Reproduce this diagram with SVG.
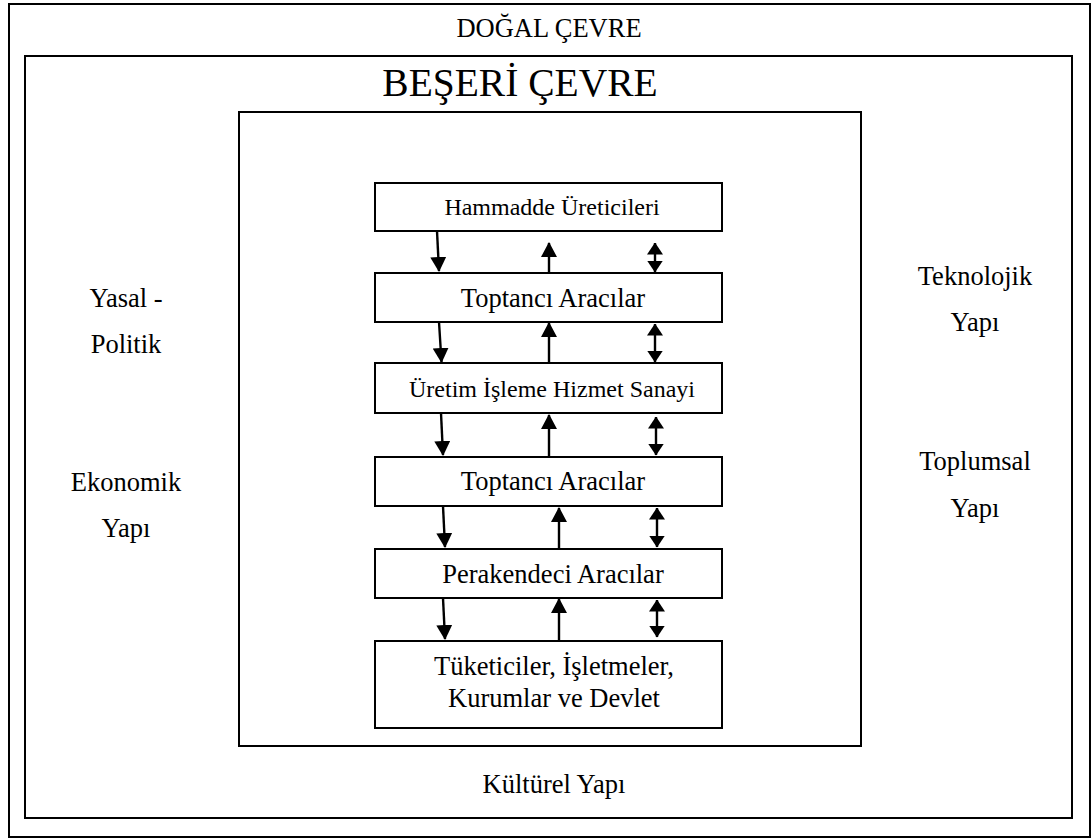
<svg xmlns="http://www.w3.org/2000/svg" width="1092" height="840" viewBox="0 0 1092 840">
<style>
  .frame { fill: none; stroke: #000; stroke-width: 2; }
  .box { fill: #fff; stroke: #000; stroke-width: 2; }
  text { font-family: "Liberation Serif", "Times New Roman", serif; fill: #000; text-anchor: middle; }
  .t26 { font-size: 26.5px; }
  .t24 { font-size: 24px; }
  .t38 { font-size: 39.5px; }
  .conn line { stroke: #000; stroke-width: 2.4; }
  .one { marker-end: url(#head); }
  .two { marker-start: url(#head2); marker-end: url(#head2); }
</style>
<defs>
  <marker id="head" viewBox="0 0 15 16" refX="14" refY="8" markerWidth="15" markerHeight="16" markerUnits="userSpaceOnUse" orient="auto-start-reverse">
    <path d="M0,0 L15,8 L0,16 z" fill="#000"/>
  </marker>
  <marker id="head2" viewBox="0 0 12 16" refX="11.5" refY="8" markerWidth="12" markerHeight="16" markerUnits="userSpaceOnUse" orient="auto-start-reverse">
    <path d="M0,0 L12,8 L0,16 z" fill="#000"/>
  </marker>
</defs>
<rect width="1092" height="840" fill="#fff"/>

<g id="dogal-cevre">
  <rect class="frame" x="9" y="4" width="1081" height="833"/>
  <text class="t26" x="549" y="37">DOĞAL ÇEVRE</text>
</g>
<g id="beseri-cevre">
  <rect class="frame" x="25" y="56" width="1047" height="762"/>
  <text class="t38" x="520" y="96">BEŞERİ ÇEVRE</text>
  <text class="t26" x="126" y="307">Yasal -</text>
  <text class="t26" x="126" y="353">Politik</text>
  <text class="t26" x="126" y="491">Ekonomik</text>
  <text class="t26" x="126" y="537">Yapı</text>
  <text class="t26" x="975" y="285">Teknolojik</text>
  <text class="t26" x="975" y="331">Yapı</text>
  <text class="t26" x="975" y="470">Toplumsal</text>
  <text class="t26" x="975" y="517">Yapı</text>
  <text class="t26" x="554" y="793">Kültürel Yapı</text>
</g>
<g id="kanal">
  <rect class="frame" x="239" y="112" width="622" height="634"/>
</g>

<g id="n1">
  <rect class="box" x="375" y="183" width="347" height="48"/>
  <text class="t24" x="552" y="215">Hammadde Üreticileri</text>
</g>
<g id="n2">
  <rect class="box" x="375" y="273" width="347" height="49"/>
  <text class="t26" x="553" y="307">Toptancı Aracılar</text>
</g>
<g id="n3">
  <rect class="box" x="375" y="363" width="347" height="50"/>
  <text class="t24" x="552" y="397">Üretim İşleme Hizmet Sanayi</text>
</g>
<g id="n4">
  <rect class="box" x="375" y="457" width="347" height="49"/>
  <text class="t26" x="553" y="490">Toptancı Aracılar</text>
</g>
<g id="n5">
  <rect class="box" x="375" y="549" width="347" height="49"/>
  <text class="t26" x="553" y="583">Perakendeci Aracılar</text>
</g>
<g id="n6">
  <rect class="box" x="375" y="641" width="347" height="87"/>
  <text class="t26" x="554" y="675">Tüketiciler, İşletmeler,</text>
  <text class="t26" x="554" y="707">Kurumlar ve Devlet</text>
</g>

<g id="connectors" class="conn">
  <line class="one" x1="437" y1="231" x2="439" y2="271"/>
  <line class="one" x1="549" y1="273" x2="549" y2="243"/>
  <line class="two" x1="655" y1="243" x2="655" y2="272"/>

  <line class="one" x1="439" y1="322" x2="441.5" y2="362"/>
  <line class="one" x1="549" y1="363" x2="549" y2="323"/>
  <line class="two" x1="655" y1="324" x2="655" y2="362"/>

  <line class="one" x1="441" y1="413" x2="443" y2="455"/>
  <line class="one" x1="549" y1="457" x2="549" y2="415"/>
  <line class="two" x1="656" y1="417" x2="656" y2="455"/>

  <line class="one" x1="443" y1="506" x2="445" y2="547"/>
  <line class="one" x1="559" y1="549" x2="559" y2="508"/>
  <line class="two" x1="657" y1="508" x2="657" y2="547"/>

  <line class="one" x1="443" y1="598" x2="445" y2="639"/>
  <line class="one" x1="559" y1="641" x2="559" y2="599"/>
  <line class="two" x1="657" y1="600" x2="657" y2="637"/>
</g>
</svg>
